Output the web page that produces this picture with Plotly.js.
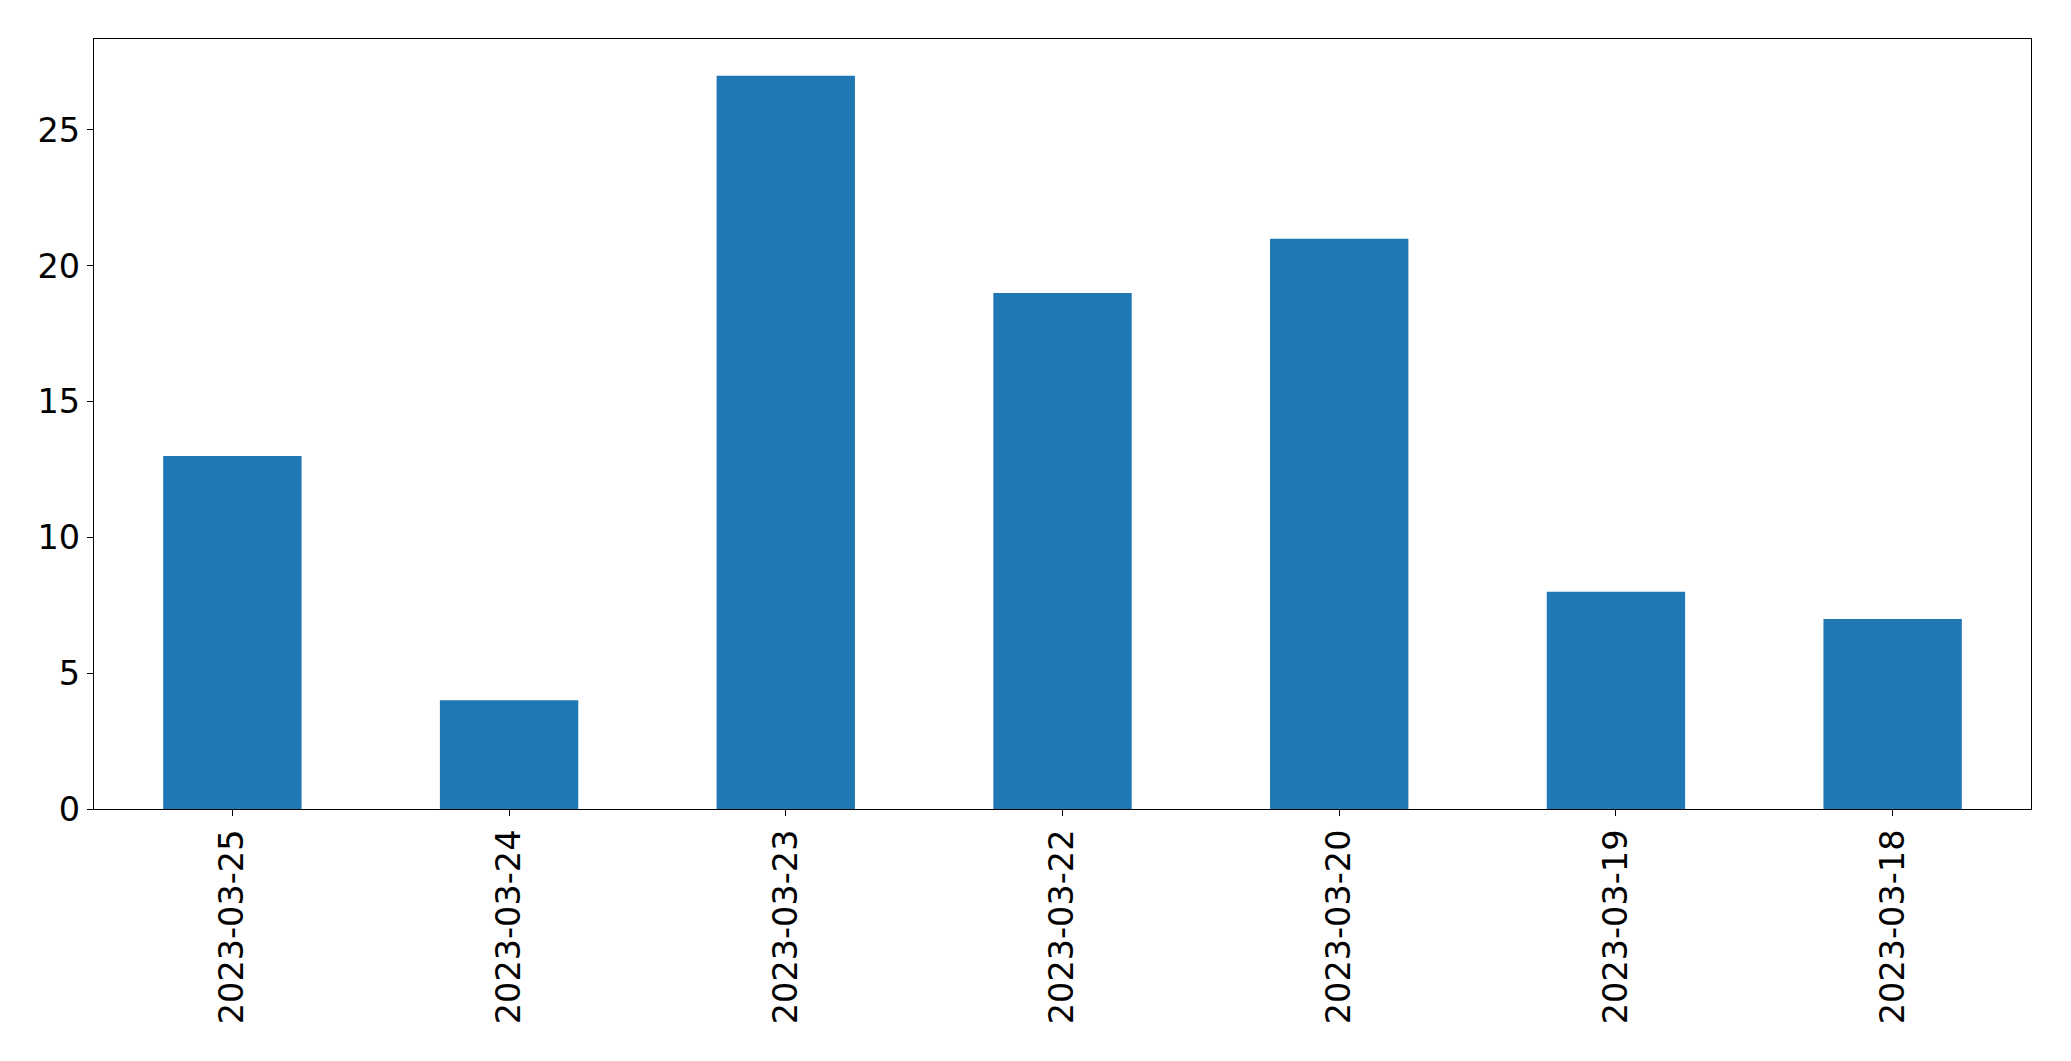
<!DOCTYPE html>
<html>
<head>
<meta charset="utf-8">
<script src="https://cdn.plot.ly/plotly-3.0.1.min.js"></script>
<style>html,body{margin:0;padding:0;background:#fff;}#chart{width:2071px;height:1061px;}</style>
</head>
<body>
<div id="chart"></div>
<script>
const dates = ["2023-03-25","2023-03-24","2023-03-23","2023-03-22","2023-03-20","2023-03-19","2023-03-18"];
const counts = [13, 4, 27, 19, 21, 8, 7];
const yTicks = [0, 5, 10, 15, 20, 25];

const trace = {
  type: "bar",
  x: dates,
  y: counts,
  width: 0.5,
  marker: {color: "#1f77b4", line: {width: 0}},
  hoverinfo: "x+y"
};

const layout = {
  width: 2071,
  height: 1061,
  margin: {l: 94, r: 40, t: 39, b: 252, pad: 0},
  paper_bgcolor: "#ffffff",
  plot_bgcolor: "#ffffff",
  showlegend: false,
  font: {family: "DejaVu Sans", size: 33.5, color: "#000000"},
  xaxis: {
    type: "category",
    range: [-0.5, 6.5],
    tickangle: -90,
    showgrid: false,
    zeroline: false,
    showline: true,
    mirror: true,
    linecolor: "#000000",
    linewidth: 1.3,
    ticks: "outside",
    ticklen: 6,
    tickwidth: 1.3,
    tickcolor: "#000000",
    tickfont: {family: "DejaVu Sans", size: 33.5, color: "#000000"}
  },
  yaxis: {
    range: [0, 28.35],
    tickvals: yTicks,
    ticktext: yTicks.map(String),
    showgrid: false,
    zeroline: false,
    showline: true,
    mirror: true,
    linecolor: "#000000",
    linewidth: 1.3,
    ticks: "outside",
    ticklen: 6,
    tickwidth: 1.3,
    tickcolor: "#000000",
    tickfont: {family: "DejaVu Sans", size: 33.5, color: "#000000"}
  }
};

Plotly.newPlot("chart", [trace], layout, {displayModeBar: false, responsive: false});
</script>
</body>
</html>
